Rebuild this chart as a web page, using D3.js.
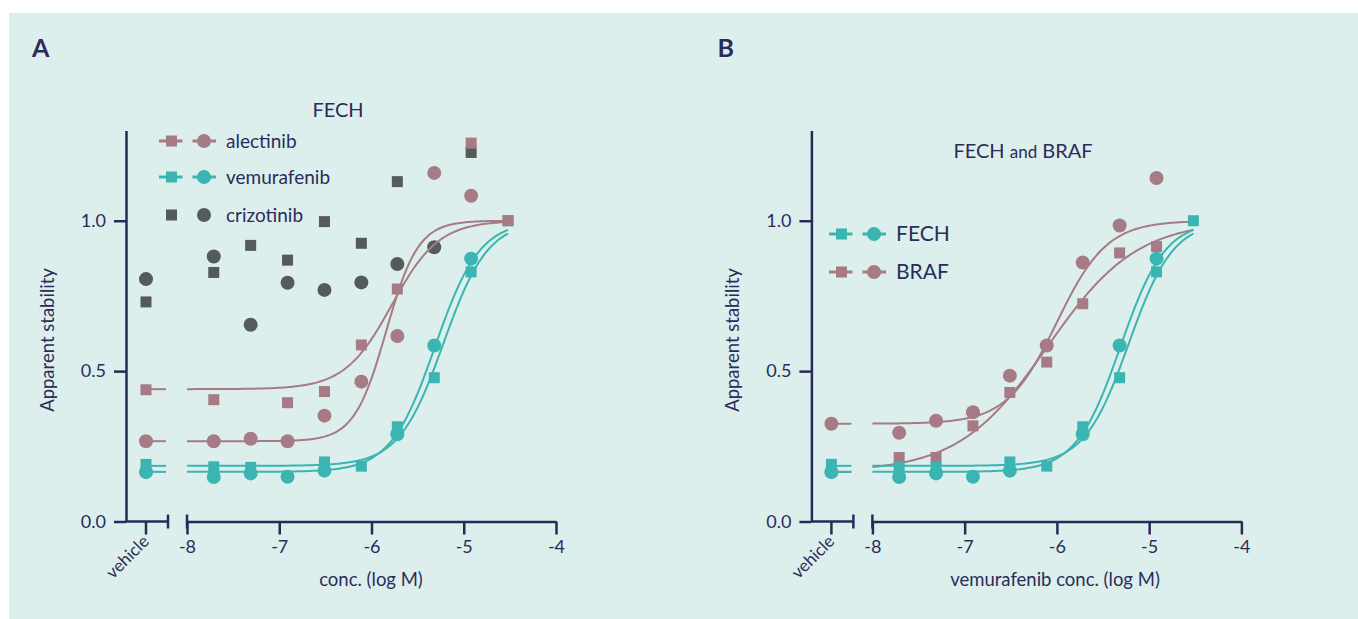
<!DOCTYPE html>
<html>
<head>
<meta charset="utf-8">
<script src="https://cdn.jsdelivr.net/npm/d3@7"></script>
<style>
  body { margin: 0; background: #fff; }
  svg text { font-family: Lato, "Open Sans", sans-serif; fill: #2a2c5a; }
</style>
</head>
<body>
<svg id="chart" width="1358" height="619"></svg>
<script>
// doses: index 0 is the vehicle, the rest are log10 molar concentrations
const logConc = [-7.71, -7.31, -6.91, -6.51, -6.11, -5.72, -5.32, -4.92, -4.52];
const xTicks = [-8, -7, -6, -5, -4];
const yTicks = [0, 0.5, 1.0];

// panel A - FECH, replicate 1 = squares, replicate 2 = circles (vehicle first)
const alectinibSq   = [0.438, 0.405, null, 0.395, 0.432, 0.587, 0.773, null, 1.258, 1.0];
const alectinibCi   = [0.267, 0.267, 0.275, 0.267, 0.352, 0.465, 0.617, 1.159, 1.083, null];
const vemurafenibSq = [0.190, 0.182, 0.180, null, 0.198, 0.184, 0.315, 0.478, 0.830, 1.0];
const vemurafenibCi = [0.164, 0.148, 0.160, 0.149, 0.169, null, 0.290, 0.585, 0.874, null];
const crizotinibSq  = [0.730, 0.828, 0.918, 0.869, 0.997, 0.925, 1.130, null, 1.227, null];
const crizotinibCi  = [0.806, 0.881, 0.654, 0.794, 0.770, 0.795, 0.856, 0.912, null, null];

// panel B - vemurafenib on FECH and BRAF
const fechSq = vemurafenibSq;
const fechCi = vemurafenibCi;
const brafSq = [0.166, 0.213, 0.213, 0.318, 0.429, 0.530, 0.724, 0.893, 0.914, null];
const brafCi = [0.325, 0.295, 0.335, 0.363, 0.485, 0.585, 0.861, 0.984, 1.142, null];

// fitted curves: [bottom, top, logEC50, hill]
const fitAlectinibSq = [0.44, 1.0, -5.78, 1.7];
const fitAlectinibCi = [0.267, 1.0, -5.84, 2.5];
const fitVemSq = [0.185, 1.0, -5.22, 1.8];
const fitVemCi = [0.165, 1.0, -5.31, 1.8];
const fitBrafSq = [0.165, 1.0, -6.1, 0.9];
const fitBrafCi = [0.325, 1.0, -6.0, 1.6];

const mauve = '#a67b86', teal = '#3bb5b1', gray = '#555b5a', navy = '#272a57';

const svg = d3.select('#chart');
svg.append('rect').attr('x', 9).attr('y', 13).attr('width', 1349).attr('height', 606).attr('fill', '#ddefed');

let logistic = (p, x) => p[0] + (p[1] - p[0]) / (1 + Math.pow(10, (p[2] - x) * p[3]));

function drawPanel(ax, opts) {
  const g = svg.append('g');
  const x = d3.scaleLinear().domain([-8, -4]).range([ax + 61, ax + 430]);
  const y = d3.scaleLinear().domain([0, 1.3]).range([521.5, 130.5]);
  const vehX = ax + 20, breakX = ax + 42;

  // y axis
  const yAxis = g.append('g').attr('transform', `translate(${ax},0)`)
    .call(d3.axisLeft(y).tickValues(yTicks).tickFormat(d3.format('.1f')).tickSize(12).tickSizeOuter(0).tickPadding(8));
  yAxis.select('.domain').attr('stroke', navy).attr('stroke-width', 2.5);
  yAxis.selectAll('.tick line').attr('stroke', navy).attr('stroke-width', 2.5);
  yAxis.selectAll('.tick text').attr('font-size', 18).attr('font-family', 'Lato').attr('fill', navy);

  // x axis, broken between vehicle and -8
  const xAxis = g.append('g').attr('transform', `translate(0,${y(0)})`)
    .call(d3.axisBottom(x).tickValues(xTicks).tickFormat(d => d).tickSize(13).tickSizeOuter(0).tickPadding(6));
  xAxis.select('.domain').attr('stroke', navy).attr('stroke-width', 2.5);
  xAxis.selectAll('.tick line').attr('stroke', navy).attr('stroke-width', 2.5);
  xAxis.selectAll('.tick text').attr('font-size', 18).attr('font-family', 'Lato').attr('fill', navy);

  g.append('line').attr('x1', ax).attr('x2', breakX).attr('y1', y(0)).attr('y2', y(0))
    .attr('stroke', navy).attr('stroke-width', 2.5);
  g.append('line').attr('x1', vehX).attr('x2', vehX).attr('y1', y(0)).attr('y2', y(0) + 13)
    .attr('stroke', navy).attr('stroke-width', 2.5);
  [breakX, x(-8)].forEach(bx => {
    g.append('line').attr('x1', bx).attr('x2', bx).attr('y1', y(0) - 7).attr('y2', y(0) + 7)
      .attr('stroke', navy).attr('stroke-width', 2.5);
  });
  g.append('text').attr('transform', `translate(${vehX + 4},${y(0) + 21}) rotate(-45)`)
    .attr('text-anchor', 'end').attr('font-size', 17).text('vehicle');

  g.append('text').attr('x', opts.xTitleX).attr('y', 586).attr('text-anchor', 'middle')
    .attr('font-size', 18.5).text(opts.xTitle);
  g.append('text').attr('transform', `translate(${ax - 72},340) rotate(-90)`)
    .attr('text-anchor', 'middle').attr('font-size', 18.5).text('Apparent stability');

  g.append('text').attr('x', ax - 94).attr('y', 57).attr('font-size', 25).attr('font-weight', 'bold')
    .attr('fill', '#1e1e1e').text(opts.letter);

  opts.series.forEach(s => {
    if (s.fit) {
      const xs = d3.range(-8, -4.52 + 1e-9, 0.02);
      g.append('path').datum(xs)
        .attr('d', d3.line().x(d => x(d)).y(d => y(logistic(s.fit, d))))
        .attr('fill', 'none').attr('stroke', s.color).attr('stroke-width', 2);
      g.append('line').attr('x1', vehX).attr('x2', breakX - 2)
        .attr('y1', y(s.fit[0])).attr('y2', y(s.fit[0]))
        .attr('stroke', s.color).attr('stroke-width', 2);
    }
    const pts = s.values.map((v, i) => ({ px: i === 0 ? vehX : x(logConc[i - 1]), v }))
      .filter(d => d.v !== null);
    if (s.shape === 'square') {
      g.selectAll(null).data(pts).enter().append('rect')
        .attr('x', d => d.px - 5.5).attr('y', d => y(d.v) - 5.5)
        .attr('width', 11).attr('height', 11).attr('fill', s.color);
    } else {
      g.selectAll(null).data(pts).enter().append('circle')
        .attr('cx', d => d.px).attr('cy', d => y(d.v)).attr('r', 7).attr('fill', s.color);
    }
  });

  // legend
  opts.legend.forEach(l => {
    const lg = g.append('g');
    if (l.lines) {
      lg.append('line').attr('x1', l.x).attr('x2', l.x + 23.5).attr('y1', l.y).attr('y2', l.y)
        .attr('stroke', l.color).attr('stroke-width', 3);
      lg.append('line').attr('x1', l.x + 33.5).attr('x2', l.x + 57).attr('y1', l.y).attr('y2', l.y)
        .attr('stroke', l.color).attr('stroke-width', 3);
    }
    lg.append('rect').attr('x', l.x + 12.5 - 5.5).attr('y', l.y - 5.5).attr('width', 11).attr('height', 11)
      .attr('fill', l.color);
    lg.append('circle').attr('cx', l.x + 45).attr('cy', l.y).attr('r', 7).attr('fill', l.color);
    lg.append('text').attr('x', l.x + 67).attr('y', l.y).attr('dy', '0.35em')
      .attr('font-size', l.size).attr('fill', l.textColor).text(l.label);
  });
}

drawPanel(126, {
  letter: 'A',
  xTitle: 'conc. (log M)', xTitleX: 371,
  series: [
    { values: crizotinibSq, shape: 'square', color: gray },
    { values: crizotinibCi, shape: 'circle', color: gray },
    { values: vemurafenibSq, shape: 'square', color: teal, fit: fitVemSq },
    { values: vemurafenibCi, shape: 'circle', color: teal, fit: fitVemCi },
    { values: alectinibCi, shape: 'circle', color: mauve, fit: fitAlectinibCi },
    { values: alectinibSq, shape: 'square', color: mauve, fit: fitAlectinibSq }
  ],
  legend: [
    { label: 'alectinib', color: mauve, x: 159, y: 141, lines: true, size: 19, textColor: navy },
    { label: 'vemurafenib', color: teal, x: 159, y: 177, lines: true, size: 19, textColor: navy },
    { label: 'crizotinib', color: gray, x: 159, y: 215, lines: false, size: 19, textColor: '#222' }
  ]
});
svg.append('text').attr('x', 338).attr('y', 117).attr('text-anchor', 'middle')
  .attr('font-size', 20).text('FECH');

drawPanel(811.4, {
  letter: 'B',
  xTitle: 'vemurafenib conc. (log M)', xTitleX: 1055,
  series: [
    { values: brafSq, shape: 'square', color: mauve, fit: fitBrafSq },
    { values: brafCi, shape: 'circle', color: mauve, fit: fitBrafCi },
    { values: fechCi, shape: 'circle', color: teal, fit: fitVemCi },
    { values: fechSq, shape: 'square', color: teal, fit: fitVemSq }
  ],
  legend: [
    { label: 'FECH', color: teal, x: 829, y: 234, lines: true, size: 21, textColor: navy },
    { label: 'BRAF', color: mauve, x: 829, y: 272, lines: true, size: 21, textColor: '#222' }
  ]
});
const tB = svg.append('text').attr('x', 1023).attr('y', 158).attr('text-anchor', 'middle').attr('font-size', 20);
tB.append('tspan').text('FECH ');
tB.append('tspan').attr('font-size', 17).text('and');
tB.append('tspan').text(' BRAF');
</script>
</body>
</html>
